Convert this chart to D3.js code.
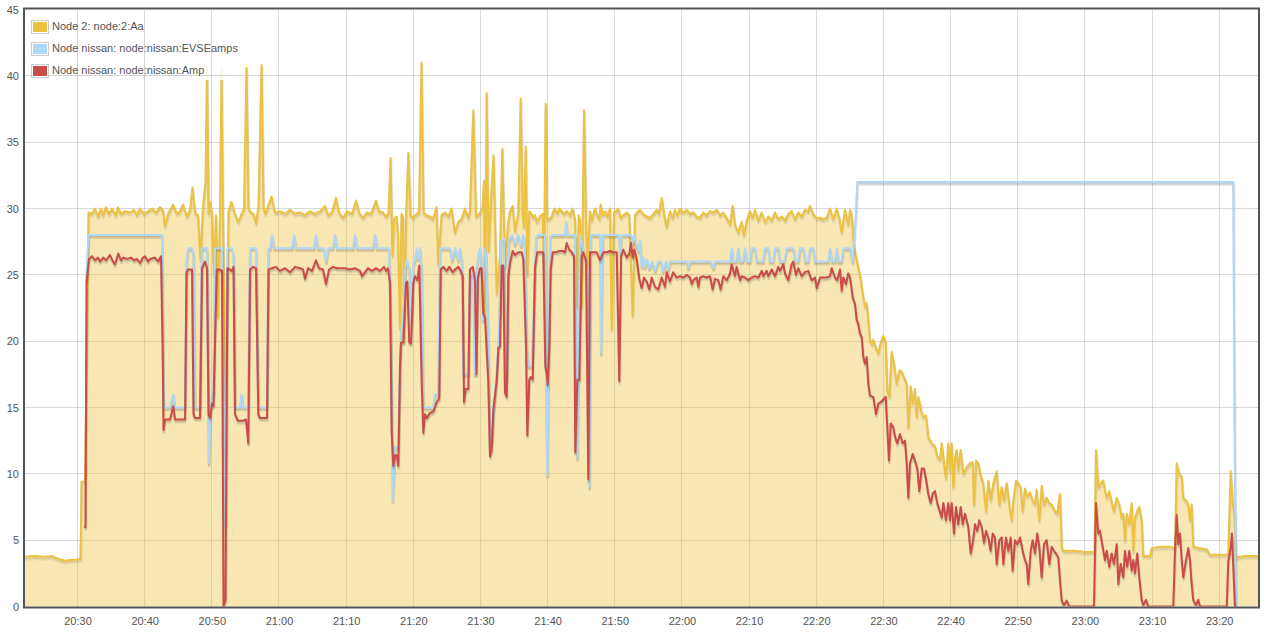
<!DOCTYPE html>
<html><head><meta charset="utf-8">
<script src="https://cdn.jsdelivr.net/npm/d3@7"></script>
<style>
body{margin:0;background:#fff}
svg{display:block}
text{font-family:"Liberation Sans",Arial,Helvetica,sans-serif}
</style>
</head><body>
<svg id="chart" width="1277" height="644"></svg>
<script>
// Time is given in minutes after 20:00; values are amps.
const seriesLabels = ["Node 2: node:2:Aa", "Node nissan: node:nissan:EVSEamps", "Node nissan: node:nissan:Amp"];
const seriesColors = ["#edc240", "#afd8f8", "#cb4b4b"];
const yTickValues = [0, 5, 10, 15, 20, 25, 30, 35, 40, 45];
const xTickStepMinutes = 10;

const aaSeries = [[22.18,3.75],[23.67,3.8],[25.16,3.75],[26.20,3.8],[27.10,3.6],[28.14,3.45],[28.88,3.5],[30.07,3.55],[30.45,3.6],[30.60,9.4],[31.12,9.4],[31.41,20],[31.64,29.7],[32.16,29.6],[32.61,30],[33.05,29.4],[33.50,30],[33.80,29.5],[34.24,30.1],[34.69,29.6],[35.14,30],[35.73,29.5],[36.03,30.1],[36.48,29.6],[37.07,29.8],[37.82,29.7],[38.41,29.9],[38.86,29.5],[39.31,30],[39.90,29.6],[40.50,29.8],[41.09,30],[41.69,29.7],[42.28,30.1],[42.73,29.9],[43.03,28.7],[43.48,29.6],[44.22,30.3],[44.82,29.6],[45.26,29.8],[45.71,30.3],[46.30,29.4],[46.75,29.9],[47.12,31.6],[47.50,29.7],[47.94,29.5],[48.31,26.2],[48.69,30.2],[49.06,32],[49.28,40.6],[49.51,29.6],[49.73,30.5],[50.03,29.6],[50.32,25],[50.62,29.5],[50.92,21.8],[51.22,29.8],[51.44,40.5],[51.66,29.6],[52.04,15.5],[52.26,22],[52.48,29.8],[52.93,30.5],[53.45,29.6],[53.97,29],[54.42,29.6],[54.79,30],[55.16,40.6],[55.46,30],[55.83,29.7],[56.21,29.6],[56.58,28.9],[56.95,30.2],[57.40,40.8],[57.70,30],[57.99,29.6],[58.37,30.2],[58.89,30.9],[59.41,29.7],[60.15,29.8],[60.90,29.6],[61.64,29.9],[62.39,29.6],[63.13,29.7],[63.87,29.5],[64.62,29.8],[65.36,29.6],[66.11,29.8],[66.85,30.2],[67.30,29.5],[67.89,29.7],[68.49,30.8],[68.94,29.7],[69.53,29.3],[70.13,29.8],[70.87,29.6],[71.47,30.6],[71.92,29.7],[72.51,29.3],[73.11,29.7],[73.70,29.6],[74.45,30.6],[74.89,29.8],[75.49,29.7],[75.94,29.4],[76.31,29.6],[76.61,33.8],[76.90,26.5],[77.13,29.2],[77.50,29.4],[77.72,28],[78.02,21],[78.24,29.6],[78.47,29.4],[78.66,20],[78.91,29.3],[79.26,34.2],[79.58,29.5],[79.96,29.3],[80.48,29.6],[80.85,29.7],[81.22,41],[81.52,29.7],[81.97,29.5],[82.49,29.4],[82.93,29.2],[83.45,30.1],[83.72,25.8],[84.20,29.5],[84.72,29.7],[85.24,29.4],[85.69,30],[86.21,28.2],[86.70,29],[87.18,29.2],[87.70,30],[88.19,29.3],[88.44,29.8],[88.93,37.4],[89.34,29.4],[89.83,29.6],[90.30,30],[90.53,32.1],[90.68,21.8],[90.93,38.7],[91.20,26.8],[91.52,30.2],[91.94,34],[92.42,23.6],[92.91,26.5],[93.25,34.5],[93.65,25.6],[94.15,29.1],[94.40,29.8],[94.80,30.2],[95.14,28.3],[95.64,29.7],[95.99,38.3],[96.29,29.7],[96.48,28.6],[96.74,34.7],[96.98,25],[97.27,29.8],[97.63,29.6],[97.87,29.3],[98.12,29.5],[98.37,29],[98.87,29.4],[99.27,29.6],[99.46,25.3],[99.71,37.9],[99.95,29.2],[100.25,29.2],[100.61,29.4],[100.85,29.8],[101.10,30],[101.44,29.6],[101.74,30],[102.10,29.8],[102.44,29.6],[102.84,29.8],[103.33,29.5],[103.73,30],[104.08,29.2],[104.33,22.6],[104.63,29.5],[104.82,29.1],[105.08,22.6],[105.42,37.4],[105.72,29.2],[105.91,25.6],[106.31,29.8],[106.56,29.1],[107.06,30],[107.40,29.5],[107.70,29.2],[107.90,30.3],[108.20,29.5],[108.54,29.8],[108.89,29.4],[109.29,30],[109.54,20.9],[109.88,29.7],[110.18,29.8],[110.53,30],[110.88,29.3],[111.27,29.5],[111.78,29.7],[112.16,29.5],[112.67,21.9],[113.01,29.5],[113.26,29.7],[113.76,29.9],[114.25,29.6],[114.75,29.4],[115.25,29.3],[115.74,29.6],[116.24,29.9],[116.58,29.6],[116.99,30.8],[117.37,29.5],[117.73,28.6],[118.22,29.8],[118.63,29.3],[118.97,29.9],[119.31,29.5],[119.71,30],[120.20,29.7],[120.71,29.9],[121.20,29.6],[121.69,29.7],[122.20,29.4],[122.69,29.3],[123.18,29.7],[123.69,29.5],[124.18,29.8],[124.67,29.7],[125.18,29.9],[125.67,29.5],[126.16,29.7],[126.67,29.3],[127.16,28.8],[127.56,30.2],[127.90,28.8],[128.39,28.2],[128.90,29],[129.24,28],[129.64,29.1],[130.14,29.8],[130.54,29.3],[130.88,29.9],[131.37,29.1],[131.88,29.7],[132.37,29],[132.86,29.4],[133.37,29.1],[133.86,29.7],[134.35,29.2],[134.86,29.4],[135.35,29.1],[135.84,29.6],[136.34,29.8],[136.84,29.2],[137.33,29.7],[137.83,29.4],[138.32,29.9],[138.82,29.8],[139.07,30.2],[139.56,29.6],[140.07,29.3],[140.56,29.3],[141.05,29.2],[141.56,29.3],[142.05,30],[142.54,29.2],[143.04,30],[143.43,29.3],[143.79,28.2],[144.28,29.9],[144.77,28.8],[145.03,29.9],[145.28,29.5],[145.62,27.1],[145.92,26.4],[146.26,25.6],[146.62,24.7],[147.01,23.3],[147.26,22.6],[147.51,22.9],[147.75,21.6],[148.00,20.1],[148.26,19.8],[148.49,20.1],[148.90,19.5],[149.24,19.1],[149.60,19.9],[149.98,20.4],[150.34,20],[150.58,16.3],[150.88,15.8],[151.23,19.2],[151.58,18.3],[151.98,16.8],[152.37,17.8],[152.72,17.7],[153.07,17.3],[153.47,16.8],[153.71,13.5],[154.06,16.6],[154.36,15.3],[154.70,16.4],[154.96,14.3],[155.20,15.8],[155.45,15.3],[155.70,14.6],[155.94,14.3],[156.34,14.4],[156.68,12.8],[157.19,12.3],[157.68,12.1],[158.02,11.3],[158.43,11.1],[158.68,12.3],[159.02,10.8],[159.32,9.7],[159.66,12.3],[159.92,10.3],[160.17,12.3],[160.41,9],[160.66,11.2],[160.91,11.8],[161.15,10.3],[161.51,11.8],[161.90,10],[162.40,10.5],[162.89,10.8],[163.30,10.9],[163.49,7.7],[163.79,11],[164.13,10.8],[164.49,9.9],[164.87,9.3],[165.28,7.2],[165.62,9.5],[165.97,8],[166.36,9.3],[166.87,10.2],[167.26,7.7],[167.61,9],[167.96,8],[168.36,9.3],[168.74,7.7],[169.10,6.5],[169.34,8],[169.74,9.5],[170.08,9.3],[170.44,9],[170.74,7.2],[171.08,8.9],[171.43,8.3],[171.83,8.6],[172.23,8],[172.57,7.7],[172.82,8.8],[173.21,6.5],[173.57,9.1],[173.91,7.7],[174.31,8.2],[174.70,7.8],[175.06,7.7],[175.55,7.2],[175.89,7],[176.29,8.5],[176.55,4.5],[176.79,4.2],[178.53,4.2],[180.02,4.1],[181.21,4.1],[181.43,4.0],[181.65,11.8],[182.00,9],[182.35,9.3],[182.74,9.5],[182.99,8.8],[183.25,8.2],[183.63,8.7],[183.99,7.9],[184.33,7.2],[184.74,8.2],[185.12,7.7],[185.48,6.7],[185.72,7],[185.97,5],[186.23,7],[186.61,6.2],[186.97,7.8],[187.21,4.2],[187.46,6.7],[187.80,7.2],[188.10,7.5],[188.46,6.5],[188.70,3.8],[189.70,3.8],[189.95,4.4],[191.18,4.5],[192.97,4.5],[193.42,4.3],[193.67,10.8],[194.06,10],[194.42,9.8],[194.65,8.2],[195.06,8],[195.40,7.7],[195.65,6.5],[195.90,7.7],[196.14,4.5],[198.18,4.3],[198.63,3.9],[200.12,3.9],[201.35,3.9],[201.71,10.2],[202.01,7.8],[202.25,7],[202.50,3.7],[203.84,3.8],[205.78,3.8]];

const evseSeries = [[31.27,24.5],[31.64,28],[42.58,28],[42.81,15],[43.77,15],[44.26,16],[44.52,15],[46.01,15],[46.23,26],[46.45,27],[47.05,27],[47.27,26.5],[47.50,15],[48.24,15],[48.49,27],[49.28,27],[49.54,10.8],[49.83,15],[50.03,16],[50.25,16],[50.47,27],[51.52,27],[51.81,15],[52.04,6],[52.31,27],[53.00,27],[53.23,26.5],[53.45,15],[54.20,15],[54.45,16],[54.64,15],[55.39,15],[55.69,27],[56.58,27],[56.92,15],[58.22,15],[58.41,27],[58.66,27],[58.96,28],[59.26,27],[61.94,27],[62.24,28],[62.53,27],[65.21,27],[65.51,28],[65.81,27],[66.70,27],[67.00,26],[67.30,27],[68.04,27],[68.34,28],[68.64,27],[71.02,27],[71.32,28],[71.62,27],[74.00,27],[74.30,28],[74.60,27],[76.38,27],[76.68,20],[76.93,8],[77.28,12],[77.77,12],[78.12,20.3],[78.27,21.1],[78.51,21.6],[78.76,25.3],[79.02,26.1],[79.40,25.5],[79.76,21.4],[80.00,25.8],[80.25,26.1],[80.51,27],[80.74,26.2],[81.00,27],[81.25,25.3],[81.49,15],[82.98,15],[83.23,16],[83.72,16],[83.98,27],[85.47,27],[85.76,26.1],[86.21,27],[86.70,26.1],[86.95,27],[87.21,26.2],[87.45,17.5],[88.19,17.5],[88.44,25],[88.93,25],[89.19,17.5],[89.44,25.6],[89.68,26.5],[89.93,27],[90.18,25.6],[90.33,21.6],[90.53,27],[90.83,26.5],[91.12,21],[91.42,12],[91.72,12.5],[92.02,15],[92.46,18],[92.76,20.5],[93.06,27.5],[93.51,27.7],[93.73,17],[93.95,17],[94.18,27.5],[94.70,28],[95.14,27.3],[95.59,28],[96.04,27.2],[96.38,28],[96.63,27],[96.86,20],[97.12,18.1],[97.63,18.1],[97.87,21],[98.27,27.8],[98.57,28],[99.61,28],[99.76,17],[99.95,9.9],[100.21,20],[100.36,27.8],[100.65,28],[102.59,28],[102.74,29],[102.96,28],[104.08,28],[104.23,18.1],[104.42,11.2],[104.60,18],[104.82,28],[105.72,26],[105.91,25.4],[106.21,9],[106.42,28],[107.80,28],[107.95,19.1],[108.20,28],[110.63,28],[110.78,26.7],[110.97,28],[112.42,28],[112.64,27.4],[112.86,28],[113.26,27.2],[113.53,26.8],[113.76,27.6],[114.01,25.6],[114.25,26.3],[114.50,25.6],[114.75,26.2],[115.14,25.5],[115.54,26],[115.99,25.3],[116.44,26],[116.88,26],[117.18,25.3],[117.63,26],[117.97,25.4],[118.22,26],[120.75,26],[120.95,25.5],[121.20,26],[124.33,26],[124.67,25.5],[124.92,26],[127.16,26],[127.41,27],[127.68,26],[128.13,26],[128.39,27],[128.65,26],[129.09,26],[129.39,27],[129.69,26],[130.14,26],[130.38,27],[130.88,27],[131.18,26],[132.07,26],[132.37,27],[132.86,27],[133.11,26],[133.56,26],[133.86,27],[134.35,27],[134.60,26],[135.20,26],[135.60,27],[136.58,27],[136.91,26],[137.28,26],[137.58,27],[138.07,27],[138.40,26],[138.77,26],[139.07,27],[139.56,27],[139.81,26],[141.75,26],[142.05,27],[142.34,26],[142.79,26],[143.04,27],[143.31,26],[143.76,26],[144.03,27],[145.03,27],[145.43,26],[145.62,27.4],[145.92,29.8],[146.11,32],[202.10,32],[202.28,15],[202.50,0]];

const ampSeries = [[30.97,6.0],[31.19,6.0],[31.34,24.4],[31.71,26.2],[32.16,26.4],[32.61,26.1],[33.05,26.3],[33.35,26.0],[33.84,26.3],[34.24,26.1],[34.84,26.5],[35.29,26.0],[35.58,25.8],[36.07,26.6],[36.48,26.1],[36.82,26.3],[37.37,26.2],[37.97,26.3],[38.41,26.1],[38.81,26.2],[39.31,25.9],[39.75,26.3],[40.05,26.4],[40.50,26.0],[40.80,26.2],[41.54,26.3],[42.03,26.0],[42.43,26.4],[42.66,20],[42.81,13.3],[43.03,14.1],[43.77,14.1],[44.26,15.1],[44.52,14.1],[46.01,14.1],[46.23,25.2],[46.45,25.4],[47.05,25.4],[47.27,14.5],[47.50,14.2],[48.24,14.2],[48.54,25.5],[48.98,26],[49.28,25.5],[49.51,14.5],[49.73,14.2],[50.03,15.3],[50.25,15.1],[50.73,25.4],[51.22,25.4],[51.52,25.3],[51.74,0],[52.04,0.5],[52.33,25.5],[53.00,25.3],[53.23,25.6],[53.45,14.5],[53.90,14.0],[54.64,14.0],[55.09,14.1],[55.43,12.3],[55.69,25.4],[56.13,25.6],[56.58,25.5],[56.92,14.5],[57.17,14.2],[58.22,14.2],[58.44,25.4],[58.96,25.5],[59.56,25.6],[60.15,25.3],[60.90,25.5],[61.64,25.2],[62.39,25.6],[63.13,25.5],[63.58,25.4],[63.87,24.7],[64.32,25.5],[64.92,25.3],[65.51,26.1],[65.96,25.5],[66.55,25.4],[67.00,24.3],[67.45,25.4],[68.04,25.6],[68.64,25.5],[69.23,25.5],[69.83,25.5],[70.58,25.4],[71.32,25.5],[72.06,25.3],[72.36,24.9],[72.81,25.2],[73.26,25.5],[73.85,25.3],[74.45,25.5],[75.04,25.3],[75.64,25.6],[75.94,25.3],[76.23,25.5],[76.53,24.4],[76.78,13.1],[77.02,10.6],[77.28,11.4],[77.53,11.4],[77.77,10.6],[78.02,18.1],[78.17,19.9],[78.51,19.9],[78.91,24.4],[79.11,24.5],[79.40,19.9],[79.66,19.8],[80.00,24.4],[80.25,24.9],[80.60,24.6],[80.89,25.7],[81.25,16.9],[81.49,13.1],[81.74,14.5],[82.00,14.2],[82.49,14.6],[82.98,14.7],[83.48,15.4],[83.87,15.7],[84.08,25.4],[84.47,25.6],[84.97,25.3],[85.36,25.6],[85.87,25.2],[86.21,25.4],[86.70,25.6],[87.06,25.3],[87.36,24.9],[87.55,15.4],[87.80,16.4],[88.19,16.4],[88.44,25.4],[88.85,25.6],[89.19,24.6],[89.41,17.5],[89.63,24.8],[89.93,25.5],[90.18,25.5],[90.42,22.1],[90.68,21.8],[91.17,16.9],[91.42,11.3],[91.67,11.8],[91.91,14.8],[92.42,17],[92.66,19.5],[92.91,19.6],[93.16,25.7],[93.40,25.7],[93.65,16.1],[93.91,15.8],[94.15,24.9],[94.40,25.9],[94.80,26.8],[95.14,26.5],[95.64,26.7],[96.14,26.7],[96.38,26.2],[96.78,19.6],[96.98,12.9],[97.27,17.1],[97.48,17.3],[97.78,17.1],[98.12,25.6],[98.46,26.7],[98.87,26.7],[99.36,26.7],[99.66,18.1],[99.86,17.6],[100.01,16.7],[100.25,19.6],[100.46,25.4],[100.76,26.7],[101.25,26.7],[101.74,26.8],[102.25,26.8],[102.59,26.7],[102.84,27.4],[103.23,26.9],[103.59,26.7],[103.93,26.4],[104.12,11.6],[104.42,17.1],[104.72,17.1],[105.08,26.4],[105.31,26.7],[105.72,26.1],[106.06,9.6],[106.31,26.7],[106.80,26.7],[107.31,26.7],[107.80,26.1],[108.29,26.7],[108.80,26.7],[109.29,26.8],[109.78,26.7],[110.29,26.7],[110.67,17],[110.93,26.4],[111.27,26.9],[111.78,26.3],[112.16,26.6],[112.42,27.4],[112.67,26.3],[112.91,26.9],[113.26,26.2],[113.65,24.7],[114.01,24],[114.35,24.8],[114.75,24.5],[115.14,23.9],[115.50,24.8],[115.99,24.1],[116.48,23.9],[116.99,24.8],[117.48,24.1],[117.73,25.2],[118.22,24.5],[118.71,25.2],[119.22,24.8],[119.71,24.9],[120.20,24.8],[120.71,25.0],[121.20,24.8],[121.46,24.3],[121.69,24.6],[122.20,24.8],[122.44,24.1],[122.69,24.8],[123.18,24.9],[123.69,24.8],[124.18,24.9],[124.58,23.9],[124.92,24.7],[125.42,24.6],[125.77,23.9],[126.16,24.9],[126.67,24.6],[127.16,25.1],[127.41,25.8],[127.90,24.9],[128.15,25.6],[128.65,24.6],[128.90,24.9],[129.39,24.8],[129.88,24.6],[130.38,24.8],[130.88,24.9],[131.37,24.8],[131.88,25.3],[132.12,24.9],[132.62,25.3],[132.86,24.9],[133.37,25.4],[133.86,24.9],[134.35,25.6],[134.60,25.3],[135.09,25.8],[135.35,25.1],[135.84,24.6],[136.34,25.8],[136.58,26],[136.98,25],[137.33,25.5],[137.83,24.9],[138.32,25.2],[138.82,25.3],[139.32,24.6],[139.81,24.8],[140.07,24.0],[140.56,24.8],[141.05,24.8],[141.56,24.8],[142.05,24.9],[142.30,25.5],[142.79,24.8],[143.13,24.6],[143.54,25.4],[143.79,23.8],[144.03,24.8],[144.43,24.3],[144.77,25.1],[145.03,24.8],[145.43,23.3],[145.77,22.8],[146.02,21.6],[146.26,21.3],[146.51,20.6],[146.77,20.3],[147.01,18.8],[147.26,18.3],[147.51,18.8],[147.75,16.8],[148.00,15.9],[148.49,15.8],[148.90,14.5],[149.24,15.3],[149.60,15.4],[149.98,15.6],[150.34,15.8],[150.58,13.5],[150.83,11],[151.09,13.8],[151.48,13.5],[151.73,12.8],[152.07,12.3],[152.47,13],[152.87,12.3],[153.21,12.5],[153.47,10.8],[153.71,8.2],[153.96,10.8],[154.36,11.5],[154.70,11],[155.05,10.4],[155.34,8.7],[155.70,10.4],[156.04,10.4],[156.34,9.6],[156.68,8.5],[157.04,7.8],[157.34,8.5],[157.68,8.7],[158.02,7.8],[158.32,7.3],[158.68,6.7],[158.92,7.8],[159.32,6.5],[159.66,7.8],[159.92,6.5],[160.17,7.8],[160.51,5.5],[160.81,7.5],[161.15,6.2],[161.51,7.5],[161.81,6.2],[162.15,7],[162.64,6],[163.00,4],[163.30,4.8],[163.64,6.2],[163.98,5.7],[164.28,6.5],[164.64,6],[164.98,4.8],[165.28,5.7],[165.62,5.2],[165.97,4.2],[166.27,5.5],[166.62,5.2],[166.87,3.2],[167.26,5],[167.61,5.2],[167.85,3.2],[168.25,5.2],[168.60,4.2],[168.95,5.2],[169.25,2.7],[169.59,5],[169.94,4.7],[170.34,5.2],[170.74,4.2],[171.08,3.5],[171.34,3.2],[171.57,1.7],[171.93,4.2],[172.23,5],[172.57,4],[172.91,5.5],[173.21,4.5],[173.57,2.2],[173.91,4.7],[174.31,5],[174.70,3.2],[175.06,4.5],[175.40,4.2],[175.70,4],[176.04,3.7],[176.29,2],[176.55,0.45],[176.89,0.1],[177.29,0.45],[177.68,0],[181.36,0],[181.65,7.8],[182.00,5.5],[182.25,5.7],[182.65,4.5],[182.99,3.5],[183.25,4.2],[183.63,3],[183.99,4],[184.33,3.2],[184.74,4.7],[184.98,1.7],[185.33,3.2],[185.72,2.2],[185.97,4.2],[186.31,3],[186.61,4.2],[186.97,2.7],[187.21,3.5],[187.46,2.5],[187.80,4],[188.10,2.2],[188.46,0.5],[188.70,0.1],[189.10,0.5],[189.44,0],[193.16,0],[193.42,4.2],[193.67,6.9],[193.91,4.7],[194.16,5.5],[194.42,3.5],[194.65,2.2],[195.06,3.5],[195.40,4.4],[195.65,3.5],[195.90,1.7],[196.14,0.5],[196.54,0.1],[196.89,0.5],[197.14,0],[201.12,0],[201.35,3.4],[201.71,4.4],[201.90,5.5],[202.10,3],[202.35,0],[202.54,0]];

const allSeries = [aaSeries, evseSeries, ampSeries];

// ---------- layout ----------
const W = 1277, H = 644;
const plot = {left: 25, right: 1258, top: 9.5, bottom: 606.5};
const base = new Date(2000, 0, 1, 20, 0, 0);
const toDate = m => new Date(base.getTime() + m * 60000);

const allTimes = allSeries.flat().map(d => d[0]);
const x = d3.scaleTime().domain([toDate(d3.min(allTimes)), toDate(d3.max(allTimes))]).range([plot.left, plot.right]);
const y = d3.scaleLinear().domain([0, 45]).range([plot.bottom, plot.top]);

const svg = d3.select("#chart");
svg.append("defs").append("clipPath").attr("id", "plotClip")
  .append("rect").attr("x", plot.left).attr("y", plot.top)
  .attr("width", plot.right - plot.left).attr("height", plot.bottom - plot.top);

const xTicks = x.ticks(d3.timeMinute.every(xTickStepMinutes));
const gridColor = "rgba(0,0,0,0.15)";

function drawGrid(g) {
  g.selectAll("line.v").data(xTicks).join("line").attr("class", "v")
    .attr("x1", d => Math.floor(x(d)) + 0.5).attr("x2", d => Math.floor(x(d)) + 0.5)
    .attr("y1", plot.top).attr("y2", plot.bottom)
    .attr("stroke", gridColor).attr("stroke-width", 1);
  g.selectAll("line.h").data(yTickValues.filter(v => v > 0 && v < 45)).join("line").attr("class", "h")
    .attr("x1", plot.left).attr("x2", plot.right)
    .attr("y1", d => Math.floor(y(d)) + 0.5).attr("y2", d => Math.floor(y(d)) + 0.5)
    .attr("stroke", gridColor).attr("stroke-width", 1);
}
drawGrid(svg.append("g"));

const px = d => x(toDate(d[0]));
const py = d => y(d[1]);
const line = d3.line().x(px).y(py);
const area = d3.area().x(px).y0(y(0)).y1(py);

const dataG = svg.append("g").attr("clip-path", "url(#plotClip)");
const lw = 2, sw = 3, ang = Math.PI / 18;

allSeries.forEach((data, i) => {
  const g = dataG.append("g");
  // Flot-like soft shadow
  g.append("path").attr("d", line(data)).attr("fill", "none")
    .attr("stroke", "rgba(0,0,0,0.1)").attr("stroke-width", sw).attr("stroke-linejoin", "round")
    .attr("transform", `translate(${Math.sin(ang) * (lw / 2 + sw / 2)},${Math.cos(ang) * (lw / 2 + sw / 2)})`);
  g.append("path").attr("d", line(data)).attr("fill", "none")
    .attr("stroke", "rgba(0,0,0,0.1)").attr("stroke-width", sw / 2).attr("stroke-linejoin", "round")
    .attr("transform", `translate(${Math.sin(ang) * (lw / 2 + sw / 4)},${Math.cos(ang) * (lw / 2 + sw / 4)})`);
  if (i === 0) {
    g.append("path").attr("d", area(data)).attr("fill", seriesColors[0]).attr("fill-opacity", 0.4);
  }
  g.append("path").attr("d", line(data)).attr("fill", "none")
    .attr("stroke", seriesColors[i]).attr("stroke-width", lw).attr("stroke-linejoin", "round");
});

// ---------- axes ----------
const textColor = "#545454";
const xAxis = svg.append("g").attr("transform", `translate(0,${plot.bottom})`)
  .call(d3.axisBottom(x).tickValues(xTicks).tickFormat(d3.timeFormat("%H:%M")).tickSize(0).tickPadding(11));
const yAxis = svg.append("g").attr("transform", `translate(${plot.left},0)`)
  .call(d3.axisLeft(y).tickValues(yTickValues).tickSize(0).tickPadding(6));
[xAxis, yAxis].forEach(a => {
  a.select(".domain").remove();
  a.selectAll("text").attr("fill", textColor).style("font-size", "11px")
    .style("font-family", '"Liberation Sans", Arial, sans-serif');
});

// border
svg.append("rect").attr("x", plot.left - 1).attr("y", plot.top - 1)
  .attr("width", plot.right - plot.left + 2).attr("height", plot.bottom - plot.top + 2)
  .attr("fill", "none").attr("stroke", textColor).attr("stroke-width", 2);

// ---------- legend ----------
const legend = svg.append("g");
const legX = 30, legY = 14, rowH = 22;
legend.append("rect").attr("x", legX).attr("y", legY).attr("width", 205).attr("height", 66)
  .attr("fill", "#fff").attr("opacity", 0.85);
const legGrid = svg.append("g");
legGrid.append("clipPath").attr("id", "legClip").append("rect")
  .attr("x", legX).attr("y", legY).attr("width", 205).attr("height", 66);
drawGrid(legGrid.append("g").attr("clip-path", "url(#legClip)"));

const legendG = svg.append("g");
seriesLabels.forEach((lab, i) => {
  const cy = legY + 12.5 + i * rowH;
  legendG.append("rect").attr("x", 31.5).attr("y", cy - 6).attr("width", 17).attr("height", 13)
    .attr("fill", "#fff").attr("stroke", "#ccc").attr("stroke-width", 1);
  legendG.append("rect").attr("x", 33).attr("y", cy - 4.5).attr("width", 14).attr("height", 10)
    .attr("fill", seriesColors[i]);
  legendG.append("text").attr("x", 52).attr("y", cy).attr("dy", "0.35em")
    .attr("fill", textColor).style("font-size", "11px").text(lab);
});
</script>
</body></html>
